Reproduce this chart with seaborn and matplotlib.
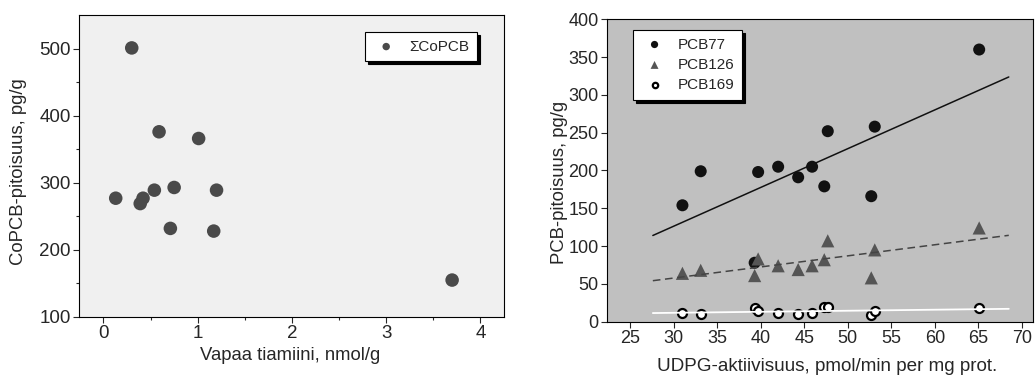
import matplotlib
matplotlib.use("Agg")
import matplotlib.pyplot as plt
import seaborn as sns
import pandas as pd

# left panel: free thiamine vs sum of coplanar PCBs
tiamiini = [0.30, 0.59, 1.01, 0.13, 0.39, 0.42, 0.54, 0.75, 1.20, 0.71, 1.17, 3.70]
copcb = [501, 376, 366, 277, 269, 277, 289, 293, 289, 232, 228, 155]

# right panel: UDPG activity vs individual congeners
udpg = [31.0, 33.1, 39.3, 39.7, 42.0, 44.3, 45.9, 47.3, 47.7, 52.7, 53.1, 65.1]
pcb77 = [154, 199, 78, 198, 205, 191, 205, 179, 252, 166, 258, 360]
pcb126 = [64, 68, 61, 83, 74, 69, 74, 82, 107, 58, 95, 124]
pcb169 = [12, 10, 18, 14, 11, 10, 12, 19, 19, 9, 14, 18]
fit_range = (27.6, 68.5)

sns.set_theme(style="ticks")
plt.rcParams["font.family"] = ["Liberation Sans", "DejaVu Sans"]

fig = plt.figure(figsize=(10.35, 3.76), dpi=100)
ax1 = fig.add_axes([0.0763, 0.157, 0.4106, 0.803])
ax2 = fig.add_axes([0.5862, 0.1444, 0.412, 0.8043])

shadow = {"facecolor": "black", "edgecolor": "black", "alpha": 1}
leg_kw = dict(fancybox=False, shadow=shadow, framealpha=1, edgecolor="black",
              fontsize=11, borderpad=0.5, handlelength=1.8, handletextpad=0.6,
              labelspacing=0.42, borderaxespad=0)

# ---- left
df1 = pd.DataFrame({"x": tiamiini, "y": copcb})
ax1.set_facecolor("#f0f0f0")
sns.scatterplot(data=df1, x="x", y="y", ax=ax1, color="#4a4a4a", s=95,
                edgecolor="none", label="ΣCoPCB")
ax1.set_xlim(-0.26, 4.25)
ax1.set_ylim(100, 550)
ax1.set_xticks([0, 1, 2, 3, 4])
ax1.set_xticks([0.5, 1.5, 2.5, 3.5], minor=True)
ax1.set_yticks([100, 200, 300, 400, 500])
ax1.set_yticks([150, 250, 350, 450], minor=True)
ax1.set_xlabel("Vapaa tiamiini, nmol/g", fontsize=13.3)
ax1.set_ylabel("CoPCB-pitoisuus, pg/g", fontsize=13.3)
ax1.xaxis.set_label_coords(0.496, -0.1)
ax1.yaxis.set_label_coords(-0.122, 0.482)
ax1.tick_params(labelsize=13.5, direction="out", length=4, width=0.8, pad=2)
ax1.tick_params(which="minor", length=2.5, width=0.8)
leg1 = ax1.legend(loc="upper right", bbox_to_anchor=(0.936, 0.944), markerscale=0.55,
                  **leg_kw)
leg1.get_frame().set_linewidth(0.8)
for sp in ax1.spines.values():
    sp.set_visible(True)
    sp.set_color("black")
    sp.set_linewidth(0.8)

# ---- right
df2 = pd.DataFrame({"x": udpg, "PCB77": pcb77, "PCB126": pcb126, "PCB169": pcb169})
ax2.set_facecolor("#c0c0c0")

# regression lines drawn across the fit range
ax2.set_xlim(*fit_range)
sns.regplot(data=df2, x="x", y="PCB77", ax=ax2, scatter=False, ci=None, truncate=False,
            line_kws={"color": "#111111", "lw": 1.1})
sns.regplot(data=df2, x="x", y="PCB126", ax=ax2, scatter=False, ci=None, truncate=False,
            line_kws={"color": "#444444", "lw": 1.1, "ls": (0, (5, 3))})
sns.regplot(data=df2, x="x", y="PCB169", ax=ax2, scatter=False, ci=None, truncate=False,
            line_kws={"color": "white", "lw": 1.3})

sns.scatterplot(data=df2, x="x", y="PCB77", ax=ax2, color="#111111", s=75,
                edgecolor="none", label="PCB77")
sns.scatterplot(data=df2, x="x", y="PCB126", ax=ax2, color="#555555", marker="^", s=90,
                edgecolor="none", label="PCB126")
sns.scatterplot(data=df2, x="x", y="PCB169", ax=ax2, facecolor="white", edgecolor="black",
                s=42, linewidth=1.6, label="PCB169")

ax2.set_xlim(22.3, 71.3)
ax2.set_ylim(0, 400)
ax2.set_xticks(range(25, 71, 5))
ax2.set_yticks(range(0, 401, 50))
ax2.set_xlabel("UDPG-aktiivisuus, pmol/min per mg prot.", fontsize=13.6)
ax2.set_ylabel("PCB-pitoisuus, pg/g", fontsize=13.3)
ax2.xaxis.set_label_coords(0.518, -0.12)
ax2.yaxis.set_label_coords(-0.09, 0.459)
ax2.tick_params(labelsize=13, direction="out", length=4, width=0.8, pad=2)
leg2 = ax2.legend(loc="upper left", bbox_to_anchor=(0.062, 0.965), markerscale=0.6,
                  **leg_kw)
leg2.get_frame().set_linewidth(0.8)
for sp in ax2.spines.values():
    sp.set_visible(True)
    sp.set_color("black")
    sp.set_linewidth(0.8)

fig.savefig("out.png", dpi=100)
